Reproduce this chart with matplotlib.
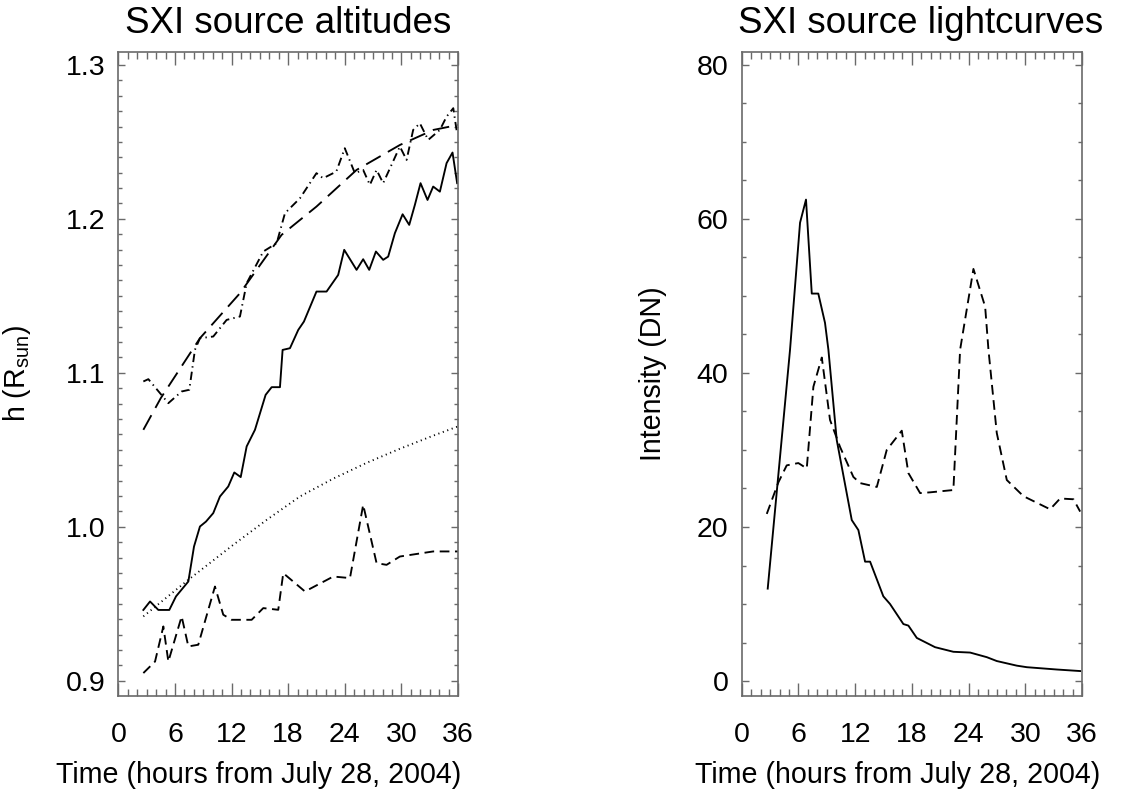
import matplotlib
matplotlib.use('Agg')
import matplotlib.pyplot as plt
from matplotlib.ticker import MultipleLocator

plt.rcParams['font.family'] = ['Liberation Sans', 'DejaVu Sans']
plt.rcParams['mathtext.default'] = 'regular'
plt.rcParams['lines.scale_dashes'] = False

# ---- left panel: source altitudes ----
t_solid = [2.65, 3.36, 4.24, 5.4, 6.11, 7.42, 8.02, 8.65, 9.29, 10.06, 10.77, 11.65,
           12.29, 12.97, 13.6, 14.48, 15.61, 16.25, 17.13, 17.41, 18.19, 19.07, 19.67,
           21.0, 22.07, 23.3, 23.94, 25.25, 25.95, 26.59, 27.3, 28.07, 28.6, 29.31,
           30.13, 30.83, 31.43, 32.03, 32.77, 33.37, 34.08, 34.79, 35.42, 35.91]
h_solid = [0.946, 0.9515, 0.946, 0.946, 0.9548, 0.9645, 0.9872, 1.0002, 1.0034, 1.0089,
           1.0197, 1.0262, 1.0353, 1.0323, 1.0522, 1.063, 1.0857, 1.0907, 1.0907, 1.1149,
           1.116, 1.1279, 1.1333, 1.1528, 1.1528, 1.1636, 1.1799, 1.1669, 1.1738, 1.1669,
           1.1788, 1.1734, 1.1755, 1.1907, 1.203, 1.1961, 1.2091, 1.2232, 1.2123, 1.221,
           1.2177, 1.2362, 1.2431, 1.2232]

t_fit = [2.65, 4.5, 8.65, 12.9, 17.3, 21.0, 25.25, 29.84, 33.4, 36.0]
h_fit = [1.063, 1.0836, 1.1225, 1.1518, 1.1896, 1.208, 1.2318, 1.248, 1.2578, 1.261]

t_dashdot = [2.65, 3.18, 5.3, 6.71, 7.52, 8.12, 8.65, 10.06, 11.48, 12.89, 13.6, 15.36,
             16.78, 17.66, 19.25, 21.0, 21.7, 23.1, 24.0, 25.07, 25.95, 26.66, 27.37,
             28.07, 29.84, 30.55, 31.25, 31.96, 32.84, 34.08, 34.79, 35.5, 35.9]
h_dashdot = [1.0944, 1.0959, 1.0803, 1.0879, 1.089, 1.115, 1.1225, 1.1236, 1.1344, 1.1366,
             1.1582, 1.1788, 1.1842, 1.2037, 1.2134, 1.2297, 1.2264, 1.2307, 1.2459, 1.2297,
             1.2318, 1.2221, 1.2318, 1.2232, 1.247, 1.2383, 1.2578, 1.2621, 1.2513, 1.2578,
             1.2664, 1.2719, 1.2556]

t_dot = [2.65, 7.42, 12.18, 15.72, 19.25, 22.78, 26.3, 29.84, 33.37, 36.0]
h_dot = [0.9418, 0.9656, 0.9883, 1.0045, 1.0197, 1.0313, 1.0415, 1.0507, 1.0592, 1.0652]

t_low = [2.65, 3.89, 4.77, 5.3, 6.71, 7.42, 8.47, 10.24, 11.12, 12.0, 14.13, 15.36, 16.95,
         17.48, 19.78, 22.78, 24.55, 25.95, 27.37, 28.43, 29.84, 33.37, 36.0]
h_low = [0.905, 0.9125, 0.9353, 0.9125, 0.9418, 0.9223, 0.9234, 0.9612, 0.9429, 0.9396,
         0.9396, 0.9472, 0.9461, 0.9699, 0.958, 0.9677, 0.9667, 1.0143, 0.9764, 0.9753,
         0.9807, 0.984, 0.984]

# ---- right panel: lightcurves ----
t_lc1 = [2.75, 5.11, 6.17, 6.8, 7.41, 8.1, 8.81, 9.17, 10.05, 11.64, 12.34, 13.05, 13.58,
         14.98, 15.69, 17.1, 17.63, 18.52, 20.45, 22.39, 24.16, 25.93, 26.98, 29.1, 30.16,
         33.33, 35.8]
i_lc1 = [12.0, 43.0, 59.5, 62.5, 50.3, 50.3, 46.5, 43.0, 31.3, 20.9, 19.6, 15.5, 15.5,
         11.0, 10.0, 7.4, 7.2, 5.6, 4.4, 3.8, 3.7, 3.1, 2.6, 2.0, 1.8, 1.5, 1.3]

t_lc2 = [2.65, 3.88, 4.76, 5.99, 6.88, 7.58, 8.47, 9.34, 10.4, 11.81, 12.52, 14.29, 15.34,
         16.93, 17.63, 18.87, 19.93, 22.39, 23.1, 24.51, 25.75, 26.1, 26.98, 28.04, 29.8,
         32.62, 33.68, 35.09, 35.8]
i_lc2 = [21.7, 25.8, 28.0, 28.3, 27.6, 38.2, 42.0, 33.9, 30.4, 26.5, 25.7, 25.2, 30.0,
         32.5, 27.0, 24.4, 24.5, 24.8, 43.0, 53.5, 48.6, 43.0, 32.2, 26.1, 24.0,
         22.3, 23.7, 23.6, 22.0]

fig = plt.figure(figsize=(11.39, 7.94), dpi=100)
ax1 = fig.add_axes([0.1039, 0.1238, 0.2982, 0.8111])
ax2 = fig.add_axes([0.6512, 0.1238, 0.2988, 0.8111])

lw = 1.35
ax1.plot(t_solid, h_solid, color='black', lw=lw)
ax1.plot(t_fit, h_fit, color='black', lw=lw, dashes=(12, 6))
ax1.plot(t_dashdot, h_dashdot, color='black', lw=lw, dashes=(6, 3, 1, 3))
ax1.plot(t_dot, h_dot, color='black', lw=lw, dashes=(0.8, 2.6))
ax1.plot(t_low, h_low, color='black', lw=lw, dashes=(7, 4))

ax2.plot(t_lc1, i_lc1, color='black', lw=lw)
ax2.plot(t_lc2, i_lc2, color='black', lw=lw, dashes=(7, 4))

ax1.set_ylim(0.8903, 1.3086)
ax1.set_yticks([0.9, 1.0, 1.1, 1.2, 1.3])
ax1.set_yticklabels(['0.9', '1.0', '1.1', '1.2', '1.3'])
ax1.yaxis.set_minor_locator(MultipleLocator(0.01))

ax2.set_ylim(-1.9, 81.7)
ax2.set_yticks([0, 20, 40, 60, 80])
ax2.yaxis.set_minor_locator(MultipleLocator(5))

spine_col = '#6a6a6a'
panels = [(ax1, 'SXI source altitudes', 0.5, r'h (R$_{sun}$)', -0.251, 0.414),
          (ax2, 'SXI source lightcurves', 0.527, 'Intensity (DN)', -0.2195, 0.459)]
for ax, title, tx, ylab, ylx, xlx in panels:
    ax.set_xlim(0, 36)
    ax.set_xticks([0, 6, 12, 18, 24, 30, 36])
    ax.xaxis.set_minor_locator(MultipleLocator(1))
    ax.tick_params(which='both', direction='in', top=True, right=True,
                   color=spine_col, labelsize=20.5, width=1)
    ax.tick_params(axis='x', which='major', length=9.5, pad=19)
    ax.tick_params(axis='x', which='minor', length=4.8)
    ax.tick_params(axis='y', which='major', length=5, pad=9.5)
    ax.tick_params(axis='y', which='minor', length=2.6)
    for s in ax.spines.values():
        s.set_color(spine_col)
        s.set_linewidth(1.2)
    ax.set_title(title, fontsize=26.5, pad=13.5, x=tx)
    ax.set_xlabel('Time (hours from July 28, 2004)', fontsize=20.6)
    ax.xaxis.set_label_coords(xlx, -0.101)
    ax.set_ylabel(ylab, fontsize=20.6)
    ax.yaxis.set_label_coords(ylx, 0.5)

fig.savefig('out.png', dpi=100)
